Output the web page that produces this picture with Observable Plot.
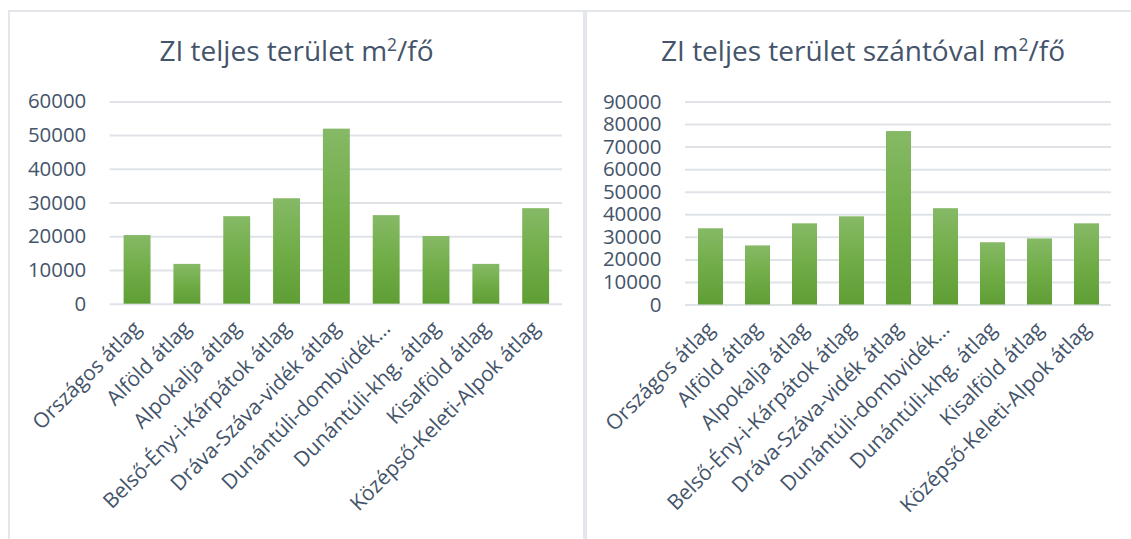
<!DOCTYPE html>
<html>
<head>
<meta charset="utf-8">
<script src="https://cdn.jsdelivr.net/npm/d3@7"></script>
<script src="https://cdn.jsdelivr.net/npm/@observablehq/plot@0.6"></script>
<style>
  html, body { margin: 0; padding: 0; background: #fff; width: 1131px; height: 539px; overflow: hidden; }
  .panel { position: absolute; top: 10px; height: 540px; box-sizing: border-box;
           border-top: 2px solid #e3e6ea; border-left: 2px solid #e3e6ea; background: #fff; }
  .title { font-family: "Open Sans", sans-serif; font-size: 28px; line-height: 37px; color: #44546a;
           text-align: center; padding-top: 20px; height: 37px; white-space: nowrap; }
  .title sup { font-size: 0.62em; line-height: 0; vertical-align: 0.55em; }
  svg [aria-label="x-axis tick label"], svg g[aria-label="x-axis"] text { font-size: 21px; }
  svg [aria-label="y-axis tick label"], svg g[aria-label="y-axis"] text { font-size: 20.5px; }
</style>
</head>
<body>
<div id="left" class="panel" style="left:8px; width:577px; border-right: 2px solid #e3e6ea;">
  <div class="title">ZI teljes terület m<sup>2</sup>/fő</div>
</div>
<div id="right" class="panel" style="left:585px; width:560px;">
  <div class="title" style="padding-right:6px;">ZI teljes terület szántóval m<sup>2</sup>/fő</div>
</div>
<script>
const categories = [
  "Országos átlag",
  "Alföld átlag",
  "Alpokalja átlag",
  "Belső-Ény-i-Kárpátok átlag",
  "Dráva-Száva-vidék átlag",
  "Dunántúli-dombvidék…",
  "Dunántúli-khg. átlag",
  "Kisalföld átlag",
  "Középső-Keleti-Alpok átlag"
];
const teljesTerulet = [20350, 11800, 25960, 31270, 51920, 26260, 20060, 11800, 28330];
const szantoval = [33800, 26200, 36000, 39100, 76900, 42700, 27600, 29300, 36000];
const leftTicks = [0, 10000, 20000, 30000, 40000, 50000, 60000];
const rightTicks = [0, 10000, 20000, 30000, 40000, 50000, 60000, 70000, 80000, 90000];

function makeChart(values, ticks, gradId, width, marginLeft, marginRight) {
  const data = categories.map((c, i) => ({cat: c, val: values[i]}));
  const height = 469;
  const svg = Plot.plot({
    width, height,
    marginTop: 32.5,
    marginBottom: 233.5,
    marginLeft, marginRight,
    style: {fontFamily: "Open Sans, sans-serif", fontSize: "20px", color: "#44546a", background: "transparent", overflow: "visible"},
    x: {domain: categories, paddingInner: 0.47, paddingOuter: 0.235, tickRotate: -45, tickSize: 0, tickPadding: 21, label: null},
    y: {domain: [0, ticks[ticks.length - 1]], ticks, tickSize: 0, tickPadding: 24, tickFormat: d => String(d), label: null},
    marks: [
      Plot.ruleY(ticks, {stroke: "#dfe3e8", strokeWidth: 2}),
      Plot.barY(data, {x: "cat", y: "val", fill: `url(#${gradId})`})
    ]
  });
  const s = d3.select(svg);
  const defs = s.insert("defs", ":first-child");
  const g = defs.append("linearGradient").attr("id", gradId)
    .attr("x1", 0).attr("y1", 0).attr("x2", 0).attr("y2", 1);
  g.append("stop").attr("offset", "0%").attr("stop-color", "#86b966");
  g.append("stop").attr("offset", "50%").attr("stop-color", "#70ad47");
  g.append("stop").attr("offset", "100%").attr("stop-color", "#5f9d35");
  svg.style.display = "block";
  return svg;
}

document.getElementById("left").appendChild(makeChart(teljesTerulet, leftTicks, "gradL", 575, 100, 21));
document.getElementById("right").appendChild(makeChart(szantoval, rightTicks, "gradR", 546, 98, 22));
</script>
</body>
</html>
